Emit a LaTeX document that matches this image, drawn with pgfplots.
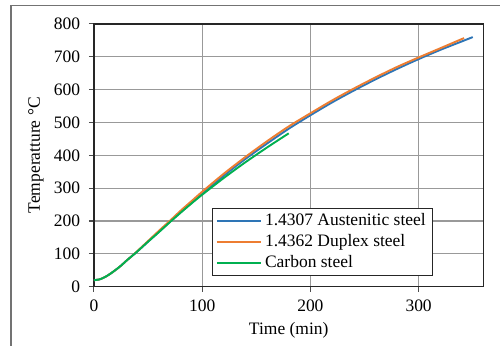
\documentclass[border=0pt]{standalone}
\usepackage{fontspec}
\setmainfont{Liberation Serif}
\usepackage{pgfplots}
\pgfplotsset{compat=1.18}
\definecolor{cblue}{RGB}{46,117,182}
\definecolor{corange}{RGB}{237,125,49}
\definecolor{cgreen}{RGB}{0,176,80}
\begin{document}
\begin{tikzpicture}
\begin{axis}[
  at={(0pt,0pt)}, anchor=origin,
  scale only axis,
  width=222.9pt, height=150.3pt,
  xmin=0, xmax=360, ymin=0, ymax=800,
  xtick={0,100,200,300}, ytick={0,100,...,800},
  grid=major,
  major grid style={draw=black!40, line width=0.6pt},
  axis line style={draw=black!85, line width=0.9pt},
  tick style={draw=black!70, line width=0.6pt},
  tick align=outside, major tick length=2.9pt,
  xtick pos=bottom, ytick pos=left,
  /pgf/number format/assume math mode=true,
  ticklabel style={font=\fontsize{10}{12}\selectfont},
  yticklabel style={xshift=-1.5pt},
  xticklabel style={yshift=-1pt},
  xlabel={Time (min)}, ylabel={Temperatture °C},
  label style={font=\fontsize{10}{12}\selectfont},
  xlabel style={at={(axis description cs:0.5,-0.167)}, anchor=center},
  ylabel style={at={(axis description cs:-0.149,0.5)}, anchor=center},
  legend cell align=left,
  legend style={at={(0.3026,0.300)}, anchor=north west, draw=black!85, line width=0.7pt,
    font=\fontsize{10}{12}\selectfont, inner xsep=2pt, inner ysep=1pt, row sep=-0.5pt},
  legend image code/.code={\draw[#1, line width=1.1pt] (0pt,0pt) -- (25pt,0pt);},
  every axis plot/.append style={line width=1.1pt, smooth},
]
\addplot[cblue] coordinates {
(0,20) (5,22) (10,29) (15,39) (20,51) (25,64) (30,79) (35,93) (40,107) (50,137) (60,167) (70,197) (80,226) (90,255) (100,283) (120,338) (140,389) (160,436) (180,481) (200,522) (220,561) (240,597) (260,631) (280,663) (300,693) (320,721) (340,747) (350,760)};
\addlegendentry{1.4307 Austenitic steel}
\addplot[corange] coordinates {
(0,20) (5,22) (10,29) (15,39) (20,51) (25,64) (30,79) (35,93) (40,108) (50,139) (60,170) (70,200) (80,231) (90,260) (100,289) (120,344) (140,395) (160,443) (180,488) (200,528) (220,567) (240,603) (260,637) (280,669) (300,698) (320,726) (342,757)};
\addlegendentry{1.4362 Duplex steel}
\addplot[cgreen] coordinates {
(0,20) (5,22) (10,29) (15,39) (20,51) (25,64) (30,79) (35,93) (40,107) (50,137) (60,166) (70,196) (80,225) (90,253) (100,280) (120,331) (140,379) (160,424) (180,467)};
\addlegendentry{Carbon steel}
\end{axis}
\draw[black!55, line width=0.6pt] (-47.43pt,-33.71pt) -- (-47.43pt,161.1pt) -- (232.57pt,161.1pt);
\useasboundingbox (-53.71pt,-33.71pt) rectangle (232.57pt,164.0pt);
\end{tikzpicture}
\end{document}
